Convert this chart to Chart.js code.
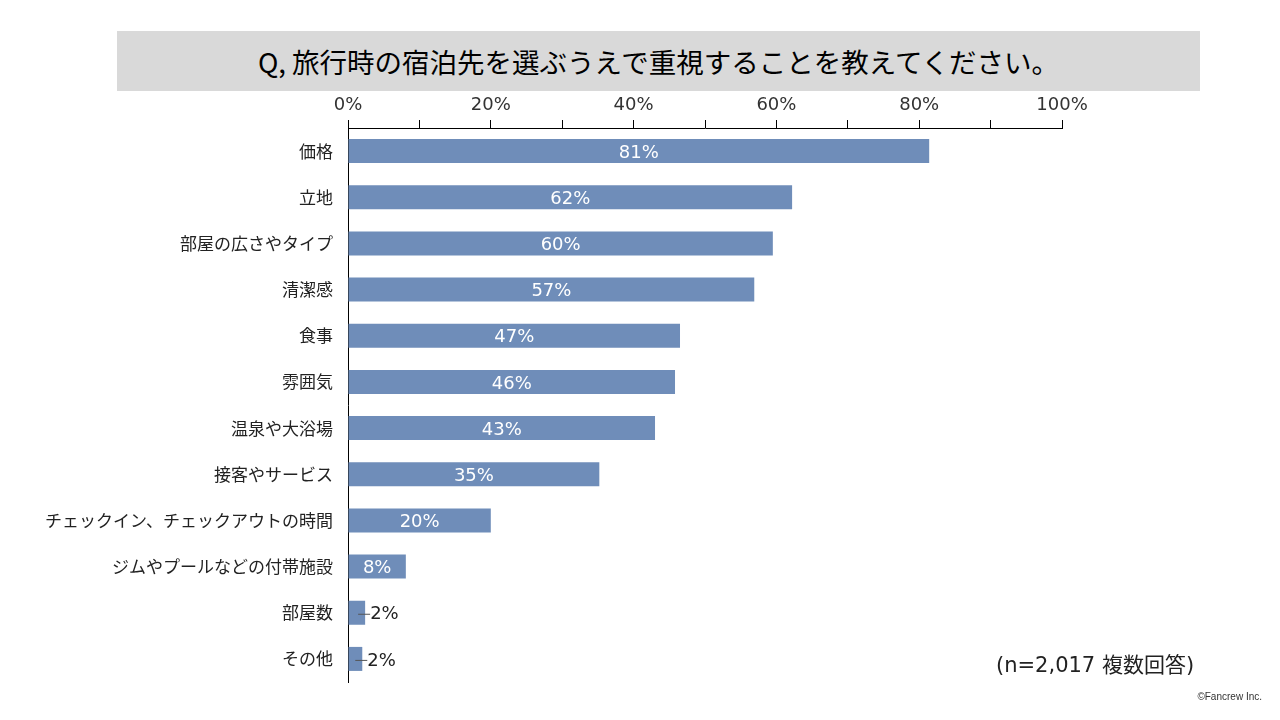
<!DOCTYPE html>
<html>
<head>
<meta charset="utf-8">
<script src="https://cdn.jsdelivr.net/npm/chart.js@4"></script>
<style>
  body { margin: 0; background: #fff; }
  #wrap { position: relative; width: 1280px; height: 720px; font-family: "Noto Sans CJK JP", "Noto Sans", sans-serif; }
  #title { position: absolute; left: 117px; top: 31px; width: 1083px; height: 60px; background: #d9d9d9;
           font-size: 27.5px; line-height: 60px; text-align: center; color: #000; }
  #note { position: absolute; left: 996px; top: 648px; font-size: 21px; color: #222;
          font-family: "DejaVu Sans", "Noto Sans CJK JP", sans-serif; }
  #copy { position: absolute; right: 18px; top: 691px; font-size: 10px; color: #333; font-family: "Liberation Sans", sans-serif; }
  canvas { position: absolute; left: 0; top: 0; }
</style>
</head>
<body>
<div id="wrap">
  <canvas id="chart" width="1280" height="720"></canvas>
  <div id="title">Q, 旅行時の宿泊先を選ぶうえで重視することを教えてください。</div>
  <div id="note">(n=2,017 複数回答)</div>
  <div id="copy">©Fancrew Inc.</div>
</div>
<script>
// items in the order shown, top to bottom
var categories = ['価格', '立地', '部屋の広さやタイプ', '清潔感', '食事', '雰囲気', '温泉や大浴場',
  '接客やサービス', 'チェックイン、チェックアウトの時間', 'ジムやプールなどの付帯施設', '部屋数', 'その他'];
var percents = [81.4, 62.2, 59.5, 56.9, 46.5, 45.8, 43.0, 35.2, 20.0, 8.1, 2.4, 2.0];
var tickValues = [0, 10, 20, 30, 40, 50, 60, 70, 80, 90, 100];

var barColor = '#6f8db9';
var font = '"Noto Sans CJK JP", "Noto Sans", sans-serif';
var numFont = '"DejaVu Sans", sans-serif';

// draws the percentage on each bar, small ones get a leader line outside
var valueLabels = {
  id: 'valueLabels',
  afterDatasetsDraw: function(chart) {
    var ctx = chart.ctx;
    var meta = chart.getDatasetMeta(0);
    ctx.save();
    ctx.font = '18px ' + numFont;
    ctx.textBaseline = 'middle';
    meta.data.forEach(function(bar, i) {
      var v = percents[i];
      var txt = Math.round(v) + '%';
      if (v >= 5) {
        ctx.fillStyle = '#fff';
        ctx.textAlign = 'center';
        ctx.fillText(txt, (bar.x + bar.base) / 2, bar.y + 2);
      } else {
        ctx.strokeStyle = '#555';
        ctx.lineWidth = 1;
        ctx.beginPath();
        ctx.moveTo(bar.x - 7, bar.y + 1.5);
        ctx.lineTo(bar.x + 5, bar.y + 1.5);
        ctx.stroke();
        ctx.fillStyle = '#222';
        ctx.textAlign = 'left';
        ctx.fillText(txt, bar.x + 5, bar.y + 2);
      }
    });
    ctx.restore();
  }
};

var ctx = document.getElementById('chart').getContext('2d');
var mychart = new Chart(ctx, {
  type: 'bar',
  data: {
    labels: categories,
    datasets: [{
      data: percents,
      backgroundColor: barColor,
      barPercentage: 0.52,
      categoryPercentage: 1.0
    }]
  },
  options: {
    indexAxis: 'y',
    responsive: false,
    animation: false,
    layout: { padding: { top: 0, right: 218, bottom: 38, left: 0 } },
    plugins: { legend: { display: false }, tooltip: { enabled: false } },
    scales: {
      x: {
        position: 'top',
        min: 0,
        max: 100,
        afterBuildTicks: function(scale) {
          scale.ticks = tickValues.map(function(v) { return { value: v }; });
        },
        afterFit: function(scale) { scale.height = 128; },
        grid: { drawOnChartArea: false, drawTicks: true, tickLength: 8, color: '#000' },
        border: { color: '#000', width: 1 },
        ticks: {
          autoSkip: false,
          maxRotation: 0,
          padding: 4,
          color: '#333',
          font: { family: numFont, size: 18 },
          callback: function(v) { return v % 20 === 0 ? v + '%' : ''; }
        }
      },
      y: {
        afterFit: function(scale) { scale.width = 348; },
        grid: { display: false },
        border: { color: '#000', width: 1 },
        ticks: {
          padding: 7,
          color: '#222',
          font: { family: font, size: 17 }
        }
      }
    }
  },
  plugins: [valueLabels]
});
</script>
</body>
</html>
